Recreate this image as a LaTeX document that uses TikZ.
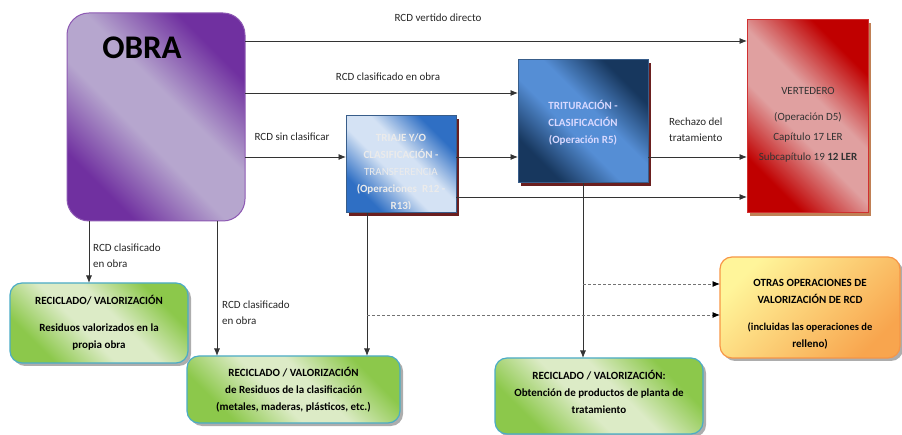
\documentclass[tikz,border=0pt]{standalone}
\usepackage{fontspec}
\setmainfont{Carlito}
\usetikzlibrary{arrows.meta,shadows}
\definecolor{obraD}{HTML}{7030A0}
\definecolor{obraL}{HTML}{B6A6CE}
\definecolor{triaD}{HTML}{2F6FC4}
\definecolor{triaL}{HTML}{D4E2F4}
\definecolor{tritD}{HTML}{17375E}
\definecolor{tritL}{HTML}{558ED5}
\definecolor{bluB}{HTML}{385D8A}
\definecolor{vertD}{HTML}{C00000}
\definecolor{vertL}{HTML}{E0A0A0}
\definecolor{vertB}{HTML}{D03030}
\definecolor{grnD}{HTML}{8CC84B}
\definecolor{grnL}{HTML}{DCEBC6}
\definecolor{grnB}{HTML}{4BACC6}
\definecolor{oraD}{HTML}{F8A54E}
\definecolor{oraL}{HTML}{FFF59A}
\definecolor{oraB}{HTML}{F79646}
\definecolor{shadR}{HTML}{6B1F1F}
\definecolor{shadO}{HTML}{B0602A}
\colorlet{dk}{black}
\colorlet{lt}{white}
\pgfdeclareverticalshading[dk,lt]{band}{100bp}{color(0bp)=(dk); color(27bp)=(dk); color(44bp)=(lt); color(56bp)=(lt); color(73bp)=(dk); color(100bp)=(dk)}
\tikzset{
  diag/.style 2 args={/utils/exec={\colorlet{dk}{#1}\colorlet{lt}{#2}}, shading=band, shading angle=-45},
  boxtxt/.style={font=\fontsize{11}{17}\selectfont\bfseries, align=center, inner sep=0pt}
}

\begin{document}
\begin{tikzpicture}[x=1pt,y=-1pt,
  lbl/.style={font=\fontsize{11}{16}\selectfont, align=left, inner sep=0pt, text=black!85},
  arr/.style={draw=black!80, line width=0.8pt, -{Latex[length=7.5pt,width=6pt]}},
  darr/.style={arr, draw=black!55, dash pattern=on 3pt off 2pt, -{Latex[length=7.5pt,width=6pt,black]}},
  sqbox/.style={line width=1pt, outer sep=0pt, inner sep=0pt},
  bluebox/.style={sqbox, draw=bluB, drop shadow={shadow xshift=3pt, shadow yshift=-3pt, fill=shadR, opacity=1}},
  rndbox/.style={line width=1.2pt, outer sep=0pt, inner sep=0pt, rounded corners=12pt,
    drop shadow={shadow xshift=3pt, shadow yshift=-3pt, fill=black!40, opacity=.8}},
  greenbox/.style={rndbox, draw=grnB, diag={grnD}{grnL}}]
\useasboundingbox (0,0) rectangle (902,435);

% boxes
\node[sqbox, draw=obraD!80, rounded corners=22pt, diag={obraD}{obraL}, minimum width=178pt, minimum height=208pt] (obra) at (156,117) {};
\node[font=\fontsize{33}{33}\selectfont\bfseries, inner sep=0pt] (obratxt) at (142,48) {OBRA};

\node[bluebox, diag={triaD}{triaL}, minimum width=110pt, minimum height=97pt,
  path picture={\clip (path picture bounding box.north west) rectangle ([yshift=4pt]path picture bounding box.south east);
    \node[boxtxt, text=white!92!black] (triajetxt) at ([yshift=-8pt]path picture bounding box.center)
    {TRIAJE Y/O\\CLASIFICACIÓN -\\\mdseries TRANSFERENCIA\\(Operaciones\ \ R12 -\\R13)};}] (triaje) at (401,164.5) {};

\node[bluebox, diag={tritD}{tritL}, minimum width=130pt, minimum height=123pt] (trit) at (583,121.5) {};
\node[boxtxt, text=white!85!blue] (trittxt) at (583,122.5) {TRITURACIÓN -\\CLASIFICACIÓN\\(Operación R5)};

\node[sqbox, draw=vertB, diag={vertD}{vertL}, minimum width=121pt, minimum height=193pt,
  drop shadow={shadow xshift=3pt, shadow yshift=-3pt, fill=shadO, opacity=.8}] (vert) at (807.5,116.5) {};
\node[boxtxt, font=\fontsize{11}{20}\selectfont, text=black!80] (verttxt) at (808,125)
  {VERTEDERO\\[6pt](Operación D5)\\Capítulo 17 LER\\Subcapítulo 19 \textbf{12 LER}};

\node[greenbox, minimum width=178pt, minimum height=80pt] (recA) at (99,323) {};
\node[boxtxt] (recAtxt) at (99,323) {RECICLADO/ VALORIZACIÓN\\[10pt]Residuos valorizados en la\\propia obra};

\node[greenbox, minimum width=213pt, minimum height=67pt] (recB) at (293.5,389.5) {};
\node[boxtxt] (recBtxt) at (293.5,390) {RECICLADO / VALORIZACIÓN\\de Residuos de la clasificación\\(metales, maderas, plásticos, etc.)};

\node[greenbox, minimum width=208pt, minimum height=76pt] (recC) at (599,396) {};
\node[boxtxt] (recCtxt) at (599,391.5) {RECICLADO / VALORIZACIÓN:\\Obtención de productos de planta de\\tratamiento};

\node[rndbox, draw=oraB, shading=axis, top color=oraL, bottom color=oraD, shading angle=45,
  minimum width=180pt, minimum height=101pt] (otras) at (810,307.5) {};
\node[boxtxt] (otrastxt) at (810,314) {OTRAS OPERACIONES DE\\VALORIZACIÓN DE RCD\\[10pt]\fontsize{10.5}{17}\selectfont(incluidas las operaciones de\\relleno)};

% levels of the connectors
\coordinate (ya) at (0,41);
\coordinate (yb) at (0,93);
\coordinate (yc) at (0,157);
\coordinate (yd) at (0,197);
\coordinate (ye) at (0,284);
\coordinate (yf) at (0,315);
\coordinate (xa) at (89,0);
\coordinate (xb) at (217,0);
\coordinate (xc) at (367,0);
\coordinate (xd) at (583,0);

\draw[arr] (obra.east |- ya) -- (vert.west |- ya);
\draw[arr] (obra.east |- yb) -- (trit.west |- yb);
\draw[arr] (obra.east |- yc) -- (triaje.west |- yc);
\draw[arr] (triaje.east |- yc) -- (trit.west |- yc);
\draw[arr] (trit.east |- yc) -- (vert.west |- yc);
\draw[arr] (triaje.east |- yd) -- (vert.west |- yd);
\draw[arr] (xa |- obra.south) -- (xa |- recA.north);
\draw[arr] (xb |- obra.south) -- (xb |- recB.north);
\draw[arr] (xc |- triaje.south) -- (xc |- recB.north);
\draw[arr] (xd |- trit.south) -- (xd |- recC.north);
\draw[darr] (xd |- ye) -- (otras.west |- ye);
\draw[darr] (xc |- yf) -- (otras.west |- yf);

% labels
\node[lbl] (vdlbl) at (438,18) {RCD vertido directo};
\node[lbl] (colbl) at (388,77) {RCD clasificado en obra};
\node[lbl] (sclbl) at (292,137) {RCD sin clasificar};
\node[lbl, anchor=west] (rtlbl) at (669,130) {Rechazo del\\tratamiento};
\node[lbl, anchor=west] (calbl) at (93,256) {RCD clasificado\\en obra};
\node[lbl, anchor=west] (cblbl) at (222,313) {RCD clasificado\\en obra};
\end{tikzpicture}
\end{document}
